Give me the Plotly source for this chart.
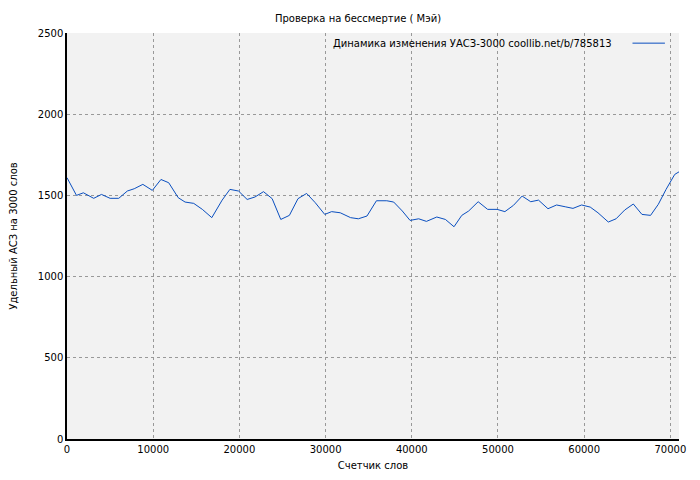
import plotly.graph_objects as go

words = [0,1100,1900,3100,4000,5000,6000,7000,7800,8800,9900,10900,11800,12900,13700,14700,15700,16800,18000,18900,19900,20900,21800,22800,23800,24800,25800,26800,27800,28800,29900,30700,31700,32900,33800,34800,35900,37100,37900,38900,39800,40800,41700,42900,43900,44900,45800,46600,47700,48800,49900,50800,51800,52800,53800,54700,55800,56800,57800,58700,59700,60700,61600,62800,63700,64700,65700,66700,67700,68600,69500,70500,71000]
uasz = [1609,1500,1516,1482,1506,1482,1482,1527,1541,1568,1531,1598,1578,1486,1459,1451,1414,1363,1471,1537,1527,1475,1490,1523,1480,1352,1377,1480,1512,1455,1383,1400,1393,1363,1356,1373,1467,1467,1459,1404,1346,1356,1340,1367,1352,1307,1377,1404,1461,1414,1414,1400,1439,1496,1461,1471,1418,1441,1430,1420,1441,1428,1393,1336,1356,1410,1447,1383,1377,1445,1537,1629,1645]
legend_text = "Динамика изменения УАСЗ-3000 coollib.net/b/785813"

fig = go.Figure(go.Scatter(x=words, y=uasz, mode="lines", line=dict(color="#0a4fc0", width=1), showlegend=False))
ax = dict(showline=True, linecolor="black", linewidth=1.5, ticks="", automargin=False,
          gridcolor="#999999", griddash="dot", gridwidth=1, zeroline=False, tickfont=dict(size=10))
fig.update_layout(
    width=700, height=480, paper_bgcolor="white", plot_bgcolor="#f2f2f2",
    margin=dict(l=59, r=29, t=25, b=49),
    font=dict(family="DejaVu Sans", size=10, color="black"),
    title=dict(text="Проверка на бессмертие ( Мэй)", x=0.5, xanchor="center", y=0.985, font=dict(size=10)),
    xaxis=dict(range=[0, 71000], dtick=10000, tickformat="d",
               title=dict(text="Счетчик слов", standoff=8, font=dict(size=10)), **ax),
    yaxis=dict(range=[0, 2500], dtick=500, tickformat="d",
               title=dict(text="Удельный АСЗ на 3000 слов", standoff=21, font=dict(size=10)), **ax),
)
fig.add_annotation(xref="paper", yref="paper", x=0.893, y=0.975, xanchor="right", yanchor="middle",
                   text=legend_text, showarrow=False, font=dict(size=10))
fig.add_shape(type="line", xref="paper", yref="paper", x0=0.924, x1=0.977, y0=0.975, y1=0.975,
              line=dict(color="#0a4fc0", width=1))
fig.write_html("out.html")
